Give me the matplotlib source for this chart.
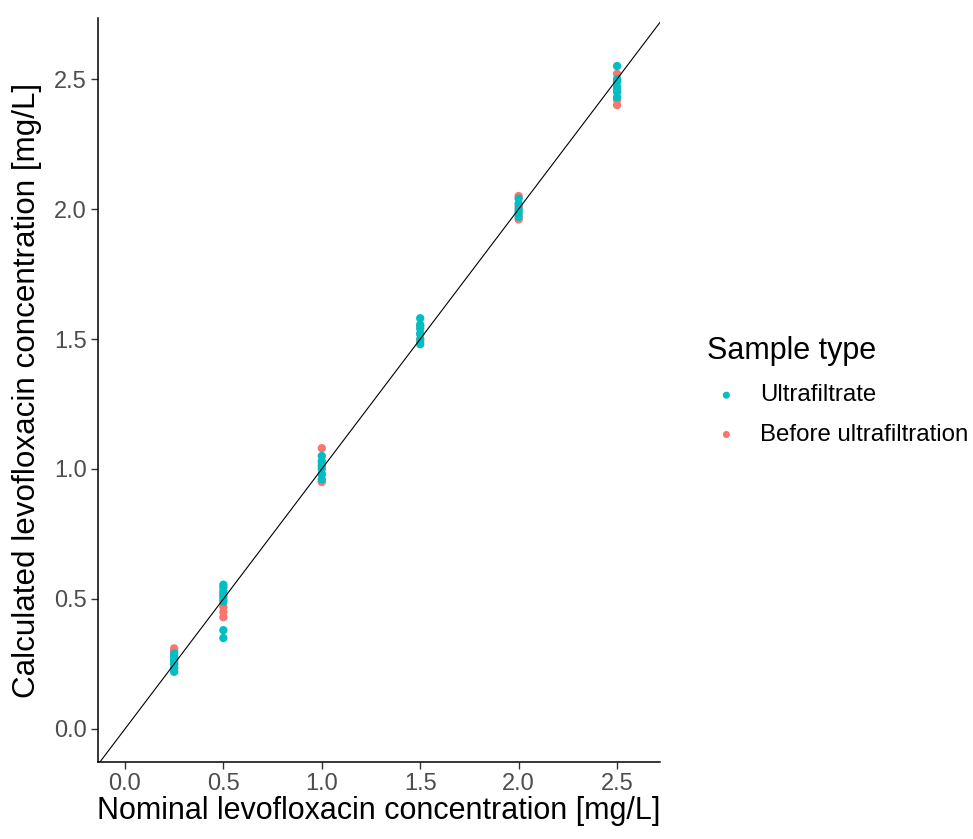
import matplotlib.pyplot as plt
import numpy as np

plt.rcParams['font.family'] = ['Liberation Sans', 'DejaVu Sans']

# nominal levels and calculated concentrations
levels = [0.25, 0.5, 1.0, 1.5, 2.0, 2.5]

ultra = [
    [0.22, 0.235, 0.25, 0.26, 0.27, 0.28, 0.29],
    [0.35, 0.38, 0.49, 0.51, 0.52, 0.53, 0.545, 0.555],
    [0.96, 0.98, 1.0, 1.01, 1.03, 1.05],
    [1.48, 1.50, 1.52, 1.54, 1.555, 1.58],
    [1.97, 1.99, 2.0, 2.02, 2.04],
    [2.43, 2.45, 2.47, 2.49, 2.50, 2.55],
]
before = [
    [0.25, 0.27, 0.30, 0.31],
    [0.43, 0.45, 0.47, 0.50],
    [0.95, 0.98, 1.02, 1.08],
    [1.49, 1.52, 1.55],
    [1.96, 1.98, 2.01, 2.05],
    [2.40, 2.42, 2.46, 2.52],
]

ticks = [0.0, 0.5, 1.0, 1.5, 2.0, 2.5]

teal = '#00BFC4'
salmon = '#F8766D'

fig = plt.figure(figsize=(9.73, 8.39), dpi=100)
ax = fig.add_axes([0.1007, 0.0918, 0.5776, 0.8868])

bx = np.concatenate([[lv] * len(v) for lv, v in zip(levels, before)])
by = np.concatenate(before)
ux = np.concatenate([[lv] * len(v) for lv, v in zip(levels, ultra)])
uy = np.concatenate(ultra)

ax.scatter(bx, by, s=36, color=salmon, edgecolors='none', zorder=2, label='Before ultrafiltration')
ax.scatter(ux, uy, s=36, color=teal, edgecolors='none', zorder=3, label='Ultrafiltrate')

ax.set_xlim(-0.137, 2.718)
ax.set_ylim(-0.127, 2.735)
ax.axline((0, 0), slope=1, color='black', lw=0.8, zorder=4)

ax.set_xticks(ticks)
ax.set_yticks(ticks)
ax.set_xticklabels([f'{t:.1f}' for t in ticks])
ax.set_yticklabels([f'{t:.1f}' for t in ticks])
ax.tick_params(colors='#333333', labelcolor='#4D4D4D', labelsize=17, length=5, width=1, pad=3)
for side in ['top', 'right']:
    ax.spines[side].set_visible(False)
for side in ['left', 'bottom']:
    ax.spines[side].set_linewidth(1.1)

ax.set_xlabel('Nominal levofloxacin concentration [mg/L]', fontsize=22, labelpad=1)
ax.set_ylabel('Calculated levofloxacin concentration [mg/L]', fontsize=22.6, labelpad=9)

h, l = ax.get_legend_handles_labels()
leg = fig.legend(h[::-1], l[::-1], title='Sample type', loc='upper left',
                 bbox_to_anchor=(0.727, 0.599), frameon=False, fontsize=17.3,
                 title_fontsize=22, handlelength=1.58, handletextpad=0.62,
                 labelspacing=0.72, markerscale=0.85, borderaxespad=0,
                 borderpad=0)
leg._legend_box.align = 'left'
leg._legend_box.sep = 13

fig.savefig('out.png', dpi=100)
